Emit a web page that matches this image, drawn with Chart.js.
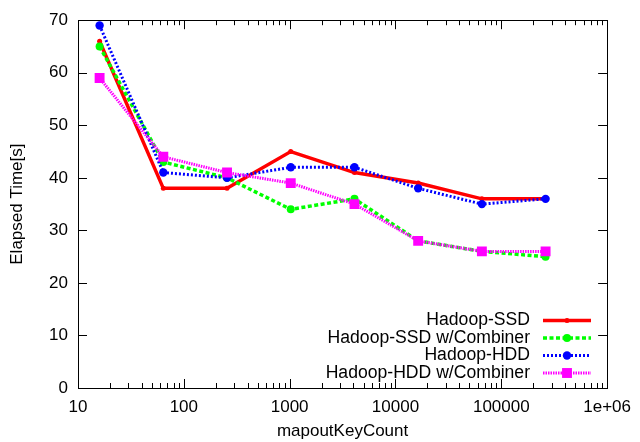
<!DOCTYPE html>
<html>
<head>
<meta charset="utf-8">
<script src="https://cdn.jsdelivr.net/npm/chart.js@4.4.1/dist/chart.umd.min.js"></script>
<style>
html,body{margin:0;padding:0;background:#fff;}
#wrap{width:640px;height:442px;position:relative;}
</style>
</head>
<body>
<div id="wrap"><canvas id="c" width="640" height="442"></canvas></div>
<script>
const categories = [16, 64, 256, 1024, 4096, 16384, 65536, 262144];
const seriesNames = ['Hadoop-SSD', 'Hadoop-SSD w/Combiner', 'Hadoop-HDD', 'Hadoop-HDD w/Combiner'];
const ssd      = [66, 38, 38, 45, 41, 39, 36, 36];
const ssdComb  = [65, 43, 40, 34, 36, 28, 26, 25];
const hdd      = [69, 41, 40, 42, 42, 38, 35, 36];
const hddComb  = [59, 44, 41, 39, 35, 28, 26, 26];
const xTickValues = [10, 100, 1000, 10000, 100000, 1000000];
const xTickLabels = ['10', '100', '1000', '10000', '100000', '1e+06'];
const yTickValues = [0, 10, 20, 30, 40, 50, 60, 70];

const FONT = "'Liberation Sans', Arial, Helvetica, sans-serif";
const FS = 17;
const LFS = 17.6;

function pts(vals){ return categories.map((x,i)=>({x:x,y:vals[i]})); }

const styles = [
  {color:'#ff0000', width:3.5, dash:[], pointStyle:'circle', radius:2.5, order:3},
  {color:'#00ff00', width:3.5, dash:[4,2.5], pointStyle:'circle', radius:4, order:2},
  {color:'#0000ff', width:3, dash:[2,2], pointStyle:'circle', radius:4.2, order:1},
  {color:'#ff00ff', width:3, dash:[1.5,1], pointStyle:'rect', radius:7, order:0}
];
const seriesData = [ssd, ssdComb, hdd, hddComb];

const datasets = seriesData.map((vals,i)=>({
  label: seriesNames[i],
  data: pts(vals),
  borderColor: styles[i].color,
  backgroundColor: styles[i].color,
  borderWidth: styles[i].width,
  borderDash: styles[i].dash,
  pointStyle: styles[i].pointStyle,
  pointRadius: styles[i].radius,
  pointBorderWidth: 0,
  pointBackgroundColor: styles[i].color,
  tension: 0,
  order: styles[i].order,
  fill: false
}));

function drawMarker(ctx, st, x, y){
  ctx.save();
  ctx.fillStyle = st.color;
  ctx.setLineDash([]);
  if (st.pointStyle === 'rect') {
    const s = Math.SQRT1_2 * st.radius;
    ctx.fillRect(x - s, y - s, 2*s, 2*s);
  } else {
    ctx.beginPath();
    ctx.arc(x, y, st.radius, 0, Math.PI*2);
    ctx.fill();
  }
  ctx.restore();
}

const framePlugin = {
  id: 'frame',
  afterDraw(chart){
    const ctx = chart.ctx;
    const a = chart.chartArea;
    const xs = chart.scales.x, ys = chart.scales.y;
    ctx.save();
    ctx.strokeStyle = '#000';
    ctx.lineWidth = 1;
    ctx.setLineDash([]);
    ctx.strokeRect(Math.round(a.left)+0.5, Math.round(a.top)+0.5, Math.round(a.right-a.left), Math.round(a.bottom-a.top));
    ctx.beginPath();
    yTickValues.forEach(v=>{
      const py = Math.round(ys.getPixelForValue(v))+0.5;
      ctx.moveTo(a.left, py); ctx.lineTo(a.left+9, py);
      ctx.moveTo(a.right, py); ctx.lineTo(a.right-9, py);
    });
    for (let d = 10; d < 1000000; d *= 10) {
      for (let m = 1; m <= 9; m++) {
        const v = d*m;
        const px = Math.round(xs.getPixelForValue(v))+0.5;
        const len = (m === 1) ? 9 : 5;
        ctx.moveTo(px, a.bottom); ctx.lineTo(px, a.bottom-len);
        ctx.moveTo(px, a.top); ctx.lineTo(px, a.top+len);
      }
    }
    const pxe = Math.round(xs.getPixelForValue(1000000))+0.5;
    ctx.moveTo(pxe, a.bottom); ctx.lineTo(pxe, a.bottom-9);
    ctx.moveTo(pxe, a.top); ctx.lineTo(pxe, a.top+9);
    ctx.stroke();

    // legend
    ctx.font = LFS + 'px ' + FONT;
    ctx.textAlign = 'right';
    ctx.textBaseline = 'middle';
    const textRight = 530, lx0 = 543, lx1 = 591, lm = 567;
    chart.data.datasets.forEach((ds,i)=>{
      const y = 320.5 + i*17.5;
      ctx.fillStyle = '#000';
      ctx.fillText(ds.label, textRight, y);
      const st = styles[i];
      ctx.save();
      ctx.strokeStyle = st.color;
      ctx.lineWidth = st.width;
      ctx.setLineDash(st.dash);
      ctx.beginPath();
      ctx.moveTo(lx0, y); ctx.lineTo(lx1, y);
      ctx.stroke();
      ctx.restore();
      drawMarker(ctx, st, lm, y);
    });
    ctx.restore();
  }
};

new Chart(document.getElementById('c'), {
  type: 'line',
  data: { datasets: datasets },
  options: {
    responsive: false,
    animation: false,
    devicePixelRatio: 1,
    layout: { padding: { left: 0, right: 27, top: 17, bottom: 0 } },
    plugins: { legend: { display: false }, tooltip: { enabled: false } },
    scales: {
      x: {
        type: 'logarithmic',
        min: 10, max: 1000000,
        afterBuildTicks(scale){ scale.ticks = xTickValues.map(v=>({value:v, major:true})); },
        afterFit(scale){ scale.height = 54; },
        grid: { display: false, drawTicks: false },
        border: { display: false },
        ticks: {
          autoSkip: false, maxRotation: 0, padding: 9,
          color: '#000', font: { family: FONT, size: FS },
          callback(value, index){ return xTickLabels[index]; }
        },
        title: { display: true, text: 'mapoutKeyCount', color: '#000', font: { family: FONT, size: FS }, padding: { top: 4, bottom: 0 } }
      },
      y: {
        min: 0, max: 70,
        afterBuildTicks(scale){ scale.ticks = yTickValues.map(v=>({value:v})); },
        afterFit(scale){ scale.width = 78; },
        grid: { display: false, drawTicks: false },
        border: { display: false },
        ticks: { padding: 10, color: '#000', font: { family: FONT, size: FS } },
        title: { display: true, text: 'Elapsed Time[s]', color: '#000', font: { family: FONT, size: FS }, padding: { top: 7, bottom: 0 } }
      }
    }
  },
  plugins: [framePlugin]
});
</script>
</body>
</html>
